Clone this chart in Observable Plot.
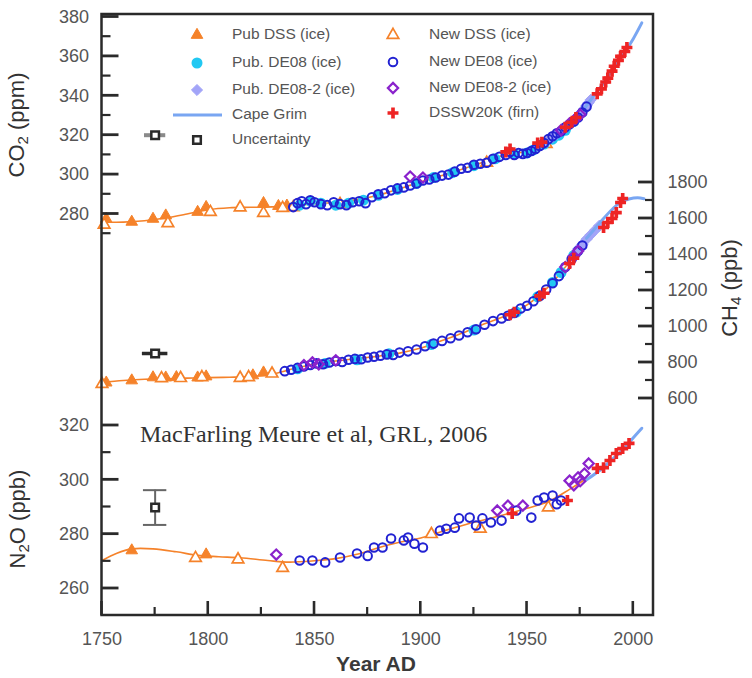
<!DOCTYPE html>
<html><head><meta charset="utf-8">
<script src="https://cdn.jsdelivr.net/npm/d3@7"></script>
<script src="https://cdn.jsdelivr.net/npm/@observablehq/plot@0.6"></script>
<style>
html,body{margin:0;padding:0;background:#fff;}
#chart{position:relative;width:752px;height:678px;overflow:hidden;background:#fff;}
#chart svg{position:absolute;left:0;top:0;}
</style></head><body><div id="chart"></div>
<script>
// ---------- ticks ----------
const xMajor = [1750, 1800, 1850, 1900, 1950, 2000];
const xMinor = [1775, 1825, 1875, 1925, 1975];
const co2Major = [280, 300, 320, 340, 360, 380];
const co2Minor = [270, 290, 310, 330, 350, 370];
const ch4Major = [600, 800, 1000, 1200, 1400, 1600, 1800];
const ch4Minor = [700, 900, 1100, 1300, 1500, 1700];
const n2oMajor = [260, 280, 300, 320];
const n2oMinor = [270, 290, 310];

// ---------- CO2 (ppm) ----------
const co2Spline = [[1750,275.8],[1760,275.9],[1770,276.6],[1780,278],[1790,280],[1800,282.2],[1810,283.2],[1820,283.4],[1830,283.6],[1840,284.2],[1850,285.2],[1860,286],[1870,287.3],[1880,289.5],[1890,292.8],[1900,296.3],[1910,299.5],[1920,303],[1930,306.5],[1940,310.2],[1950,311.8],[1960,316.5],[1970,325.5],[1978,334]];
const co2PubDSS = [[1752,277.5],[1764,276],[1774,277.5],[1780,279.2],[1795,281],[1799,283.5],[1826,285.5],[1833,284],[1837,284.2]];
const co2NewDSS = [[1751,274.5],[1781,275.3],[1801,281],[1815,283.3],[1826,280.5],[1835,283],[1840,283.4],[1862,285],[1931,306],[1959,315.5]];
const co2PubDE08 = [[1843,284.5],[1848,286.5],[1853,285.5],[1860,284.5],[1866,285.5],[1873,287],[1880,289.5],[1889,292.5],[1898,295.5],[1906,298.5],[1915,301],[1925,304.5],[1935,308],[1944,310.5],[1950,311],[1953,312.5],[1958,315.5],[1962,318],[1965,320],[1968,322.5],[1972,327]];
const co2NewDE08 = [[1840,283.5],[1842,285.5],[1844,286.5],[1846,285],[1848,287],[1850,286],[1853,285],[1856,284.5],[1859,286],[1862,285],[1865,284.5],[1868,286],[1871,286.5],[1874,285.5],[1877,288.5],[1880,290],[1883,290.5],[1886,292],[1889,293],[1892,293.5],[1895,294.5],[1898,295.5],[1901,297],[1904,297.5],[1907,298.5],[1910,299.5],[1913,300],[1916,301.5],[1919,303],[1922,303.5],[1925,305],[1928,305.5],[1931,306],[1934,308],[1937,309],[1940,310],[1942,311.5],[1944,310],[1946,311],[1948,310.5],[1950,311],[1952,312],[1954,313],[1956,314.5],[1958,316],[1960,318],[1962,319.5],[1964,321],[1966,322],[1968,324],[1970,325.5],[1972,327],[1974,329],[1976,331.5],[1978,334.5]];
const co2PubDE082 = [[1955,314.5],[1959,316.5],[1962,319],[1964,320.5],[1966,322],[1968,323.5],[1970,325.5],[1972,327.5],[1974,330],[1976,332],[1977,333.5],[1978,335],[1979,336.5],[1980,338]];
const co2NewDE082 = [[1895,299],[1901,298.5],[1966,322.5],[1970,326],[1973,328.5],[1975,330.5]];
const co2Firn = [[1940,311.5],[1942,313],[1955,316],[1957,316.5],[1968,324],[1971,326.5],[1973,329],[1983,341],[1985,343.5],[1987,347],[1988,349],[1990,352.5],[1991,355],[1993,358],[1994,360],[1996,362.5],[1997,364.5]];
const co2CapeGrim = [[1976,332],[1980,338],[1985,345],[1990,353],[1995,360.5],[2000,369],[2004,377]];
const co2Uncertainty = [{year: 1775, value: 320, yearErr: 5}];

// ---------- CH4 (ppb) ----------
const ch4Spline = [[1750,690],[1760,700],[1770,707],[1780,710],[1790,713],[1800,716],[1810,718],[1820,722],[1830,735],[1840,765],[1850,792],[1860,808],[1870,822],[1880,835],[1890,852],[1900,880],[1910,922],[1920,965],[1930,1015],[1940,1060],[1950,1120],[1960,1220],[1970,1360],[1978,1480]];
const ch4PubDSS = [[1752,688],[1764,700],[1774,717],[1780,716],[1785,718],[1795,716],[1799,722],[1821,728],[1826,744]];
const ch4NewDSS = [[1750,680],[1778,712],[1787,713],[1797,718],[1815,714],[1819,718],[1830,738]];
const ch4PubDE08 = [[1842,765],[1855,795],[1870,815],[1885,848],[1905,900],[1925,980],[1945,1080],[1955,1165],[1962,1245],[1966,1300],[1972,1395]];
const ch4NewDE08 = [[1836,752],[1839,760],[1842,770],[1845,778],[1848,786],[1851,795],[1854,790],[1857,800],[1860,808],[1863,803],[1866,815],[1869,820],[1872,818],[1875,828],[1878,832],[1881,838],[1884,845],[1887,842],[1890,855],[1894,862],[1898,872],[1902,890],[1906,905],[1910,920],[1914,935],[1918,950],[1922,968],[1926,985],[1930,1010],[1934,1030],[1938,1045],[1941,1060],[1944,1075],[1947,1100],[1950,1115],[1953,1140],[1956,1170],[1959,1205],[1962,1240],[1965,1280],[1968,1330],[1971,1375],[1974,1420],[1976,1450]];
const ch4PubDE082 = [[1974,1430],[1976,1455],[1978,1485],[1980,1510],[1982,1535],[1984,1560]];
const ch4NewDE082 = [[1845,785],[1849,800],[1852,790],[1860,812],[1968,1330],[1972,1390],[1974,1420]];
const ch4Firn = [[1942,1065],[1944,1080],[1956,1170],[1958,1185],[1970,1350],[1972,1380],[1986,1550],[1988,1578],[1990,1600],[1992,1633],[1994,1689],[1995,1711]];
const ch4CapeGrim = [[1978,1490],[1982,1545],[1986,1600],[1990,1650],[1994,1690],[1998,1708],[2002,1715],[2005,1710]];
const ch4Uncertainty = [{year: 1775, value: 850, yearErr: 6}];

// ---------- N2O (ppb) ----------
const n2oSpline = [[1750,270.3],[1757,273],[1764,274.6],[1774,274.6],[1785,273.5],[1795,272.2],[1805,271.7],[1815,271.3],[1828,270.3],[1838,269.7],[1850,270.2],[1860,271],[1870,272.6],[1880,275],[1890,277],[1900,278.6],[1910,281],[1920,283.3],[1930,285.3],[1940,287.3],[1950,289.5],[1960,292],[1970,296.5],[1978,300.5]];
const n2oPubDSS = [[1764,274],[1799,272.5]];
const n2oNewDSS = [[1794,271.2],[1814,270.7],[1835,267.5],[1905,280],[1928,282],[1960,289.8]];
const n2oPubDE08 = [];
const n2oNewDE08 = [[1843,270.3],[1849,270.3],[1855,269.6],[1862,271.4],[1870,272.9],[1875,272],[1878,275.1],[1882,275.1],[1886,278.4],[1892,277.7],[1894,278.8],[1897,276.5],[1901,275.1],[1909,281.3],[1912,282],[1916,282.4],[1918,285.8],[1923,286.1],[1926,283.2],[1929,285.8],[1933,284.3],[1938,285],[1945,288.7],[1952,286.1],[1955,292.4],[1958,293.5],[1962,294.2],[1964,291],[1966,292.4]];
const n2oPubDE082 = [];
const n2oNewDE082 = [[1832,272.5],[1936,288.7],[1941,290.5],[1948,290.5],[1970,299.7],[1972,298],[1974,300.9],[1975,299.5],[1977,302.3],[1979,306]];
const n2oFirn = [[1943,287.6],[1969,292.4],[1983,304.2],[1986,304.5],[1989,307.1],[1992,309.7],[1995,311.5],[1998,313.4]];
const n2oCapeGrim = [[1978,300],[1985,304],[1990,307.5],[1995,311],[2000,315.5],[2004,319]];
const n2oUncertainty = [{year: 1775, value: 289.8, yearErr: 5.5, valueErr: 6.4}];

// ---------- legend ----------
const legendLabels = ["Pub DSS (ice)", "Pub. DE08 (ice)", "Pub. DE08-2 (ice)", "Cape Grim", "Uncertainty",
                      "New DSS (ice)", "New DE08 (ice)", "New DE08-2 (ice)", "DSSW20K (firn)"];

// ---------- styles ----------
const ORANGE = "#f5822a", CYAN = "#22c8f2", LAV = "#a2a4f8", GRIM = "#79a6f2",
      BLUE = "#2222d2", PURPLE = "#8a22cc", RED = "#ee2424", INK = "#2a2a2a";
const FONT = "'Liberation Sans', Arial, sans-serif";

const W = 752, H = 678, ML = 101.5, MR = 99, MT = 14, MB = 63;
const common = {
  width: W, height: H, marginLeft: ML, marginRight: MR, marginTop: MT, marginBottom: MB,
  style: {background: "transparent", fontFamily: FONT, fontSize: "18px", overflow: "visible"}
};
const xScale = {domain: [1750, 2009.5], range: [ML, W - MR]};
const X = p => p[0], Y = p => p[1];

function seriesMarks(s) {
  return [
    Plot.line(s.spline, {x: X, y: Y, curve: "catmull-rom", stroke: ORANGE, strokeWidth: 1.6}),
    Plot.dot(s.pubDSS, {x: X, y: Y, symbol: "triangle", r: 4.3, fill: ORANGE, stroke: ORANGE, strokeWidth: 1}),
    Plot.dot(s.newDSS, {x: X, y: Y, symbol: "triangle", r: 4.3, fill: "white", stroke: ORANGE, strokeWidth: 1.7}),
    Plot.dot(s.pubDE08, {x: X, y: Y, symbol: "circle", r: 5.5, fill: CYAN}),
    Plot.dot(s.pubDE082, {x: X, y: Y, symbol: "diamond2", r: 5, fill: LAV, stroke: LAV, strokeWidth: 1}),
    Plot.line(s.capeGrim, {x: X, y: Y, curve: "catmull-rom", stroke: GRIM, strokeWidth: 3}),
    Plot.dot(s.newDE08, {x: X, y: Y, symbol: "circle", r: 4.3, fill: "none", stroke: BLUE, strokeWidth: 2}),
    Plot.dot(s.newDE082, {x: X, y: Y, symbol: "diamond2", r: 4.6, fill: "none", stroke: PURPLE, strokeWidth: 2.2}),
    Plot.dot(s.firn, {x: X, y: Y, symbol: "cross", r: 4.6, fill: RED})
  ];
}

// CO2 layer (with frame and x axis labels)
const plotCO2 = Plot.plot({
  ...common,
  x: xScale,
  y: {domain: [270, 380], range: [233.2, 16.5]},
  marks: [
    Plot.axisX(xMajor, {anchor: "bottom", tickSize: 0, tickPadding: 17, fill: "#555", tickFormat: d => String(d), label: null}),
    Plot.axisY(co2Major, {anchor: "left", tickSize: 0, tickPadding: 13, fill: "#555", tickFormat: d => String(d), label: null}),
    ...seriesMarks({spline: co2Spline, pubDSS: co2PubDSS, newDSS: co2NewDSS, pubDE08: co2PubDE08, newDE08: co2NewDE08,
                    pubDE082: co2PubDE082, newDE082: co2NewDE082, firn: co2Firn, capeGrim: co2CapeGrim}),
    Plot.ruleY(co2Uncertainty, {y: "value", x1: d => d.year - d.yearErr, x2: d => d.year + d.yearErr, stroke: "#8a8a8a", strokeWidth: 4}),
    Plot.dot(co2Uncertainty, {x: "year", y: "value", symbol: "square", r: 4.3, fill: "white", stroke: INK, strokeWidth: 2.5})
  ]
});

// CH4 layer (right axis labels)
const plotCH4 = Plot.plot({
  ...common,
  x: {...xScale, axis: null},
  y: {domain: [600, 1800], range: [398, 182]},
  marks: [
    Plot.axisY(ch4Major, {anchor: "right", tickSize: 0, tickPadding: 14, fill: "#555", tickFormat: d => String(d), label: null}),
    ...seriesMarks({spline: ch4Spline, pubDSS: ch4PubDSS, newDSS: ch4NewDSS, pubDE08: ch4PubDE08, newDE08: ch4NewDE08,
                    pubDE082: ch4PubDE082, newDE082: ch4NewDE082, firn: ch4Firn, capeGrim: ch4CapeGrim}),
    Plot.ruleY(ch4Uncertainty, {y: "value", x1: d => d.year - d.yearErr, x2: d => d.year + d.yearErr, stroke: INK, strokeWidth: 3.5}),
    Plot.dot(ch4Uncertainty, {x: "year", y: "value", symbol: "square", r: 4.3, fill: "white", stroke: INK, strokeWidth: 2.5})
  ]
});

// N2O layer (lower left axis labels)
const plotN2O = Plot.plot({
  ...common,
  x: {...xScale, axis: null},
  y: {domain: [260, 320], range: [588, 425]},
  marks: [
    Plot.axisY(n2oMajor, {anchor: "left", tickSize: 0, tickPadding: 13, fill: "#555", tickFormat: d => String(d), label: null}),
    ...seriesMarks({spline: n2oSpline, pubDSS: n2oPubDSS, newDSS: n2oNewDSS, pubDE08: n2oPubDE08, newDE08: n2oNewDE08,
                    pubDE082: n2oPubDE082, newDE082: n2oNewDE082, firn: n2oFirn, capeGrim: n2oCapeGrim}),
    Plot.ruleX(n2oUncertainty, {x: "year", y1: d => d.value - d.valueErr, y2: d => d.value + d.valueErr, stroke: "#666", strokeWidth: 2}),
    Plot.ruleY(n2oUncertainty, {y: d => d.value + d.valueErr, x1: d => d.year - d.yearErr, x2: d => d.year + d.yearErr, stroke: "#666", strokeWidth: 2}),
    Plot.ruleY(n2oUncertainty, {y: d => d.value - d.valueErr, x1: d => d.year - d.yearErr, x2: d => d.year + d.yearErr, stroke: "#666", strokeWidth: 2}),
    Plot.dot(n2oUncertainty, {x: "year", y: "value", symbol: "square", r: 4.3, fill: "white", stroke: INK, strokeWidth: 2.5})
  ]
});

const chart = document.getElementById("chart");
chart.append(plotCO2, plotCH4, plotN2O);

// ---------- overlay: frame, inward ticks (via Plot's scales), titles, note, legend ----------
const ov = d3.select(chart).append("svg").attr("width", W).attr("height", H)
  .style("font-family", FONT);

const fx = plotCO2.scale("x");
const L = ML, R = W - MR, T = MT, B = H - MB;
const tickG = ov.append("g").attr("stroke", INK).attr("stroke-linecap", "butt");
function yTicks(plot, values, side, len, sw) {
  const sc = plot.scale("y");
  values.forEach(v => {
    const y = sc.apply(v);
    const x0 = side === "left" ? L : R;
    const x1 = side === "left" ? L + len : R - len;
    tickG.append("line").attr("x1", x0).attr("x2", x1).attr("y1", y).attr("y2", y).attr("stroke-width", sw);
  });
}
function xTicks(values, len, sw) {
  values.forEach(v => {
    const x = fx.apply(v);
    tickG.append("line").attr("x1", x).attr("x2", x).attr("y1", B).attr("y2", B - len).attr("stroke-width", sw);
  });
}
yTicks(plotCO2, co2Major, "left", 17, 2.8);
yTicks(plotCO2, co2Minor, "left", 9, 2.2);
yTicks(plotN2O, n2oMajor, "left", 17, 2.8);
yTicks(plotN2O, n2oMinor, "left", 9, 2.2);
yTicks(plotCH4, ch4Major, "right", 15, 2.8);
yTicks(plotCH4, ch4Minor, "right", 8, 2.2);
xTicks(xMajor, 14, 2.6);
xTicks(xMinor, 8, 2.2);
ov.append("rect").attr("x", L).attr("y", T).attr("width", R - L).attr("height", B - T)
  .attr("fill", "none").attr("stroke", INK).attr("stroke-width", 2.5);

function subTitle(x, y, parts) {
  const t = ov.append("text").attr("transform", `translate(${x},${y}) rotate(-90)`)
    .attr("text-anchor", "middle").attr("dominant-baseline", "middle")
    .attr("font-size", 22).attr("fill", "#333").attr("font-weight", 500);
  parts.forEach(([s, sub]) => {
    t.append("tspan").attr("font-size", sub ? 15 : 22).attr("dy", sub ? 6 : (t.node().childNodes.length ? -6 : 0)).text(s);
  });
}
subTitle(24, 125, [["CO", false], ["2", true], [" (ppm)", false]]);
subTitle(737, 288, [["CH", false], ["4", true], [" (ppb)", false]]);
subTitle(25, 519, [["N", false], ["2", true], ["O (ppb)", false]]);

ov.append("text").attr("x", 376).attr("y", 665).attr("text-anchor", "middle").attr("dominant-baseline", "middle")
  .attr("font-size", 21).attr("font-weight", "bold").attr("fill", "#3a3a3a").text("Year AD");

ov.append("text").attr("x", 140).attr("y", 442)
  .attr("font-family", "'Liberation Serif', 'Times New Roman', serif")
  .attr("font-size", 24).attr("fill", "#333").text("MacFarling Meure et al, GRL, 2006");

// legend entries
const legendSpec = [
  {sx: 197, tx: 232, y: 35, kind: "pubDSS"}, {sx: 197, tx: 232, y: 63, kind: "pubDE08"},
  {sx: 197, tx: 232, y: 90, kind: "pubDE082"}, {sx: 197, tx: 232, y: 115, kind: "grim"},
  {sx: 197, tx: 232, y: 140, kind: "unc"},
  {sx: 393, tx: 429, y: 35, kind: "newDSS"}, {sx: 393, tx: 429, y: 62, kind: "newDE08"},
  {sx: 393, tx: 429, y: 88, kind: "newDE082"}, {sx: 393, tx: 429, y: 113, kind: "firn"}
];
const area = r => Math.PI * r * r;
const symStyle = {
  pubDSS:   {type: d3.symbolTriangle, r: 4.3, fill: ORANGE, stroke: ORANGE, sw: 1},
  pubDE08:  {type: d3.symbolCircle, r: 5.5, fill: CYAN, stroke: "none", sw: 0},
  pubDE082: {type: d3.symbolDiamond2, r: 5, fill: LAV, stroke: LAV, sw: 1},
  unc:      {type: d3.symbolSquare, r: 4.3, fill: "white", stroke: INK, sw: 2.5},
  newDSS:   {type: d3.symbolTriangle, r: 4.3, fill: "white", stroke: ORANGE, sw: 1.7},
  newDE08:  {type: d3.symbolCircle, r: 4.3, fill: "none", stroke: BLUE, sw: 2},
  newDE082: {type: d3.symbolDiamond2, r: 4.6, fill: "none", stroke: PURPLE, sw: 2.2},
  firn:     {type: d3.symbolCross, r: 4.6, fill: RED, stroke: "none", sw: 0}
};
legendSpec.forEach((e, i) => {
  if (e.kind === "grim") {
    ov.append("line").attr("x1", 173).attr("x2", 222).attr("y1", e.y).attr("y2", e.y)
      .attr("stroke", GRIM).attr("stroke-width", 3);
  } else {
    const s = symStyle[e.kind];
    ov.append("path").attr("transform", `translate(${e.sx},${e.y})`)
      .attr("d", d3.symbol(s.type, area(s.r))())
      .attr("fill", s.fill).attr("stroke", s.stroke).attr("stroke-width", s.sw);
  }
  ov.append("text").attr("x", e.tx).attr("y", e.y).attr("dominant-baseline", "middle")
    .attr("font-size", 15.5).attr("fill", "#555").text(legendLabels[i]);
});
</script></body></html>
